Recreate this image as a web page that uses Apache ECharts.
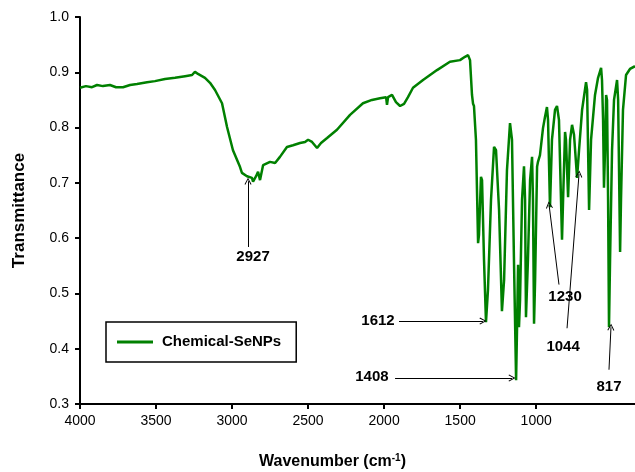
<!DOCTYPE html>
<html>
<head>
<meta charset="utf-8">
<script src="https://cdn.jsdelivr.net/npm/echarts@6/dist/echarts.min.js"></script>
<style>
  html, body { margin: 0; padding: 0; background: #fff; }
  #chart { width: 635px; height: 472px; }
</style>
</head>
<body>
<div id="chart"></div>
<script>
// spectrum
const wavenumber = [
  4000, 3961, 3921, 3888, 3849, 3803, 3763, 3717, 3671, 3625, 3559, 3507, 3441, 3375, 3309, 3263,
  3244, 3224, 3178, 3145, 3112, 3066, 3033, 2994, 2948, 2935, 2902, 2869, 2862, 2842, 2829, 2816,
  2810, 2796, 2750, 2717, 2685, 2639, 2599, 2553, 2520, 2500, 2474, 2441, 2415, 2375, 2310, 2224,
  2139, 2080, 2027, 1987, 1981, 1974, 1948, 1922, 1895, 1869, 1843, 1810, 1744, 1652, 1567, 1501,
  1468, 1448, 1435, 1422, 1415, 1409, 1396, 1382, 1376, 1363, 1356, 1343, 1330, 1317, 1297, 1277,
  1264, 1244, 1225, 1211, 1192, 1172, 1159, 1146, 1132, 1126, 1119, 1113, 1106, 1093, 1080, 1073,
  1067, 1054, 1040, 1027, 1021, 1014, 1007, 994, 988, 975, 955, 942, 929, 922, 909, 896,
  876, 863, 850, 830, 823, 810, 804, 790, 777, 764, 751, 731, 718, 698, 672, 665,
  652, 639, 613, 593, 573, 567, 560, 554, 547, 540, 534, 527, 521, 514, 501, 488,
  468, 461, 448, 442, 429, 409, 383, 350
];
const transmittance = [
  0.872, 0.875, 0.873, 0.877, 0.875, 0.877, 0.873, 0.873, 0.877, 0.879, 0.882, 0.884, 0.888, 0.890, 0.893, 0.895,
  0.901, 0.897, 0.890, 0.881, 0.868, 0.844, 0.801, 0.759, 0.729, 0.718, 0.712, 0.709, 0.702, 0.712, 0.720, 0.705,
  0.702, 0.732, 0.738, 0.736, 0.747, 0.765, 0.768, 0.772, 0.774, 0.778, 0.774, 0.763, 0.772, 0.781, 0.796, 0.823,
  0.844, 0.850, 0.853, 0.855, 0.841, 0.855, 0.859, 0.846, 0.839, 0.843, 0.855, 0.872, 0.886, 0.904, 0.919, 0.922,
  0.928, 0.931, 0.922, 0.859, 0.843, 0.839, 0.778, 0.591, 0.606, 0.711, 0.705, 0.561, 0.448, 0.506, 0.669, 0.765,
  0.759, 0.651, 0.468, 0.524, 0.723, 0.808, 0.778, 0.561, 0.343, 0.434, 0.552, 0.439, 0.488, 0.669, 0.730, 0.669,
  0.457, 0.561, 0.705, 0.747, 0.669, 0.445, 0.524, 0.729, 0.738, 0.750, 0.799, 0.819, 0.837, 0.814, 0.656, 0.778,
  0.832, 0.839, 0.814, 0.597, 0.669, 0.792, 0.778, 0.674, 0.778, 0.805, 0.787, 0.709, 0.759, 0.832, 0.882, 0.868,
  0.651, 0.778, 0.859, 0.890, 0.908, 0.886, 0.814, 0.691, 0.759, 0.859, 0.850, 0.669, 0.439, 0.561, 0.759, 0.850,
  0.886, 0.850, 0.575, 0.669, 0.832, 0.895, 0.906, 0.911
];
const xTicks = [4000, 3500, 3000, 2500, 2000, 1500, 1000];

// peak annotations (data units)
const peakNames = ['2927', '1612', '1408', '1230', '1044', '817'];
const arrowStart = [[2895, 0.584], [1902, 0.450], [1928, 0.347], [850, 0.516], [797, 0.437], [521, 0.362]];
const arrowEnd = [[2895, 0.703], [1350, 0.450], [1159, 0.347], [915, 0.660], [718, 0.716], [508, 0.439]];
const labelPos = [[2862, 0.566], [2040, 0.450], [2080, 0.349], [810, 0.494], [823, 0.403], [521, 0.331]];

const chart = echarts.init(document.getElementById('chart'));

const chevron = 'path://M5,0 L10,9 L8.8,9.8 L5,2.6 L1.2,9.8 L0,9 Z';
const font = 'Liberation Sans, Arial';

const option = {
  animation: false,
  backgroundColor: '#fff',
  grid: { left: 80, right: 0, top: 17, bottom: 68, outerBoundsMode: 'none' },
  legend: {
    left: 106,
    top: 322,
    padding: [11, 15, 11, 11],
    borderColor: '#000',
    borderWidth: 1.5,
    icon: 'rect',
    itemWidth: 36,
    itemHeight: 3,
    itemGap: 0,
    itemStyle: { color: '#008000' },
    textStyle: { fontSize: 15, fontWeight: 'bold', color: '#000', fontFamily: font, padding: [0, 0, 0, 4], lineHeight: 18 },
    data: ['Chemical-SeNPs']
  },
  xAxis: {
    type: 'value',
    inverse: true,
    min: 350,
    max: 4000,
    name: '{a|Wavenumber (cm}{s|-1}{a|)}',
    nameLocation: 'middle',
    nameGap: 49,
    nameTextStyle: {
      padding: [0, 50, 0, 0],
      rich: {
        a: { fontSize: 16, fontWeight: 'bold', color: '#000', fontFamily: font, verticalAlign: 'bottom' },
        s: { fontSize: 10, fontWeight: 'bold', color: '#000', fontFamily: font, verticalAlign: 'bottom', padding: [0, 0, 7, 0] }
      }
    },
    axisLine: { lineStyle: { color: '#000', width: 2 } },
    axisTick: { length: 5, lineStyle: { color: '#000', width: 2 }, customValues: xTicks },
    axisLabel: {
      fontSize: 14, color: '#000', margin: 10, fontFamily: font, customValues: xTicks,
      formatter: v => String(v)
    },
    splitLine: { show: false }
  },
  yAxis: {
    type: 'value',
    min: 0.3,
    max: 1.0,
    interval: 0.1,
    name: 'Transmittance',
    nameLocation: 'middle',
    nameGap: 52,
    nameTextStyle: { fontSize: 17, fontWeight: 'bold', color: '#000', fontFamily: font },
    axisLine: { show: true, lineStyle: { color: '#000', width: 2 } },
    axisTick: { show: true, length: 5, lineStyle: { color: '#000', width: 2 } },
    axisLabel: {
      fontSize: 14, color: '#000', margin: 11, fontFamily: font,
      formatter: v => v.toFixed(1)
    },
    splitLine: { show: false }
  },
  series: [
    {
      name: 'Chemical-SeNPs',
      type: 'line',
      symbol: 'none',
      showSymbol: false,
      data: wavenumber.map((w, i) => [w, transmittance[i]]),
      lineStyle: { color: '#008000', width: 2.5 },
      itemStyle: { color: '#008000' },
      markLine: {
        silent: true,
        animation: false,
        symbol: ['none', chevron],
        symbolSize: [7, 7],
        label: { show: false },
        lineStyle: { color: '#000', width: 1, type: 'solid' },
        data: arrowStart.map((s, i) => [{ coord: s }, { coord: arrowEnd[i] }])
      },
      markPoint: {
        silent: true,
        animation: false,
        symbol: 'circle',
        symbolSize: 1,
        itemStyle: { color: 'rgba(0,0,0,0)' },
        label: {
          show: true,
          position: 'inside',
          formatter: '{b}',
          color: '#000',
          fontSize: 15,
          fontWeight: 'bold',
          fontFamily: font
        },
        data: peakNames.map((n, i) => ({ name: n, coord: labelPos[i] }))
      }
    }
  ]
};

chart.setOption(option);
</script>
</body>
</html>
